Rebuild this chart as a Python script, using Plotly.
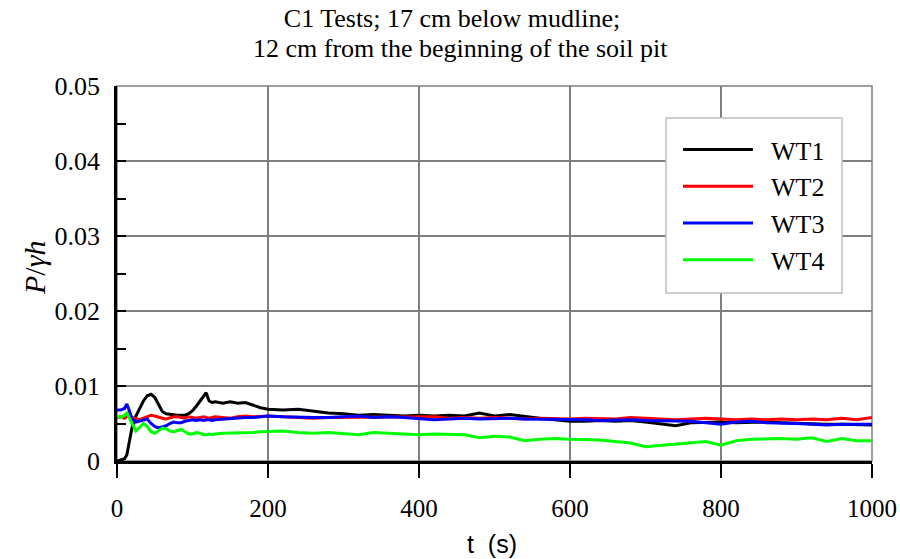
import plotly.graph_objects as go

# ---- data ----
t = [0, 5, 10, 13, 16, 20, 25, 30, 35, 40, 45, 50, 55, 60, 65, 70, 75, 80, 85, 90,
     95, 100, 105, 110, 115, 118, 122, 126, 130, 140, 150, 160, 170, 180, 190,
     200, 220, 240, 260, 280, 300, 320, 340, 360, 380, 400, 420, 440, 460, 480,
     500, 520, 540, 560, 580, 600, 620, 640, 660, 680, 700, 720, 740, 760, 780,
     800, 820, 840, 860, 880, 900, 920, 940, 960, 980, 1000]

wt1 = [0.0000, 0.0001, 0.0003, 0.0008, 0.0025, 0.0045, 0.0060, 0.0070, 0.0080, 0.0087,
       0.0089, 0.0085, 0.0075, 0.0066, 0.0063, 0.0062, 0.0062, 0.0061, 0.0061, 0.0061,
       0.0063, 0.0067, 0.0073, 0.0080, 0.0088, 0.0091, 0.0080, 0.0078, 0.0079, 0.0077,
       0.0079, 0.0077, 0.0078, 0.0074, 0.0071,
       0.0069, 0.0068, 0.0069, 0.0066, 0.0064, 0.0063, 0.0061, 0.0062, 0.0061, 0.0060,
       0.0061, 0.0060, 0.0061, 0.0060, 0.0064, 0.0060, 0.0062, 0.0059, 0.0057, 0.0055,
       0.0053, 0.0053, 0.0054, 0.0053, 0.0054, 0.0052, 0.0049, 0.0047, 0.0051, 0.0052,
       0.0052, 0.0051, 0.0052, 0.0052, 0.0051, 0.0050, 0.0050, 0.0049, 0.0049, 0.0049,
       0.0048]

wt2 = [0.0058, 0.0059, 0.0057, 0.0060, 0.0062, 0.0058, 0.0056, 0.0055, 0.0057, 0.0059,
       0.0061, 0.0060, 0.0058, 0.0057, 0.0056, 0.0058, 0.0059, 0.0059, 0.0058, 0.0057,
       0.0059, 0.0058, 0.0057, 0.0058, 0.0059, 0.0058, 0.0057, 0.0058, 0.0059, 0.0058,
       0.0057, 0.0059, 0.0060, 0.0059, 0.0060,
       0.0060, 0.0059, 0.0058, 0.0057, 0.0058, 0.0058, 0.0059, 0.0058, 0.0059, 0.0058,
       0.0058, 0.0059, 0.0057, 0.0058, 0.0057, 0.0058, 0.0057, 0.0056, 0.0057, 0.0056,
       0.0056, 0.0057, 0.0056, 0.0056, 0.0058, 0.0057, 0.0056, 0.0055, 0.0056, 0.0057,
       0.0056, 0.0055, 0.0056, 0.0055, 0.0056, 0.0055, 0.0056, 0.0055, 0.0057, 0.0055,
       0.0058]

wt3 = [0.0068, 0.0068, 0.0070, 0.0076, 0.0068, 0.0056, 0.0052, 0.0053, 0.0055, 0.0056,
       0.0050, 0.0046, 0.0044, 0.0045, 0.0047, 0.0050, 0.0052, 0.0051, 0.0051, 0.0053,
       0.0054, 0.0055, 0.0054, 0.0055, 0.0054, 0.0055, 0.0055, 0.0054, 0.0055, 0.0056,
       0.0056, 0.0057, 0.0058, 0.0058, 0.0059,
       0.0060, 0.0059, 0.0058, 0.0058, 0.0058, 0.0059, 0.0060, 0.0058, 0.0059, 0.0058,
       0.0057, 0.0055, 0.0056, 0.0057, 0.0056, 0.0057, 0.0057, 0.0056, 0.0056, 0.0055,
       0.0055, 0.0055, 0.0054, 0.0055, 0.0055, 0.0054, 0.0054, 0.0054, 0.0053, 0.0051,
       0.0049, 0.0052, 0.0053, 0.0051, 0.0051, 0.0050, 0.0049, 0.0048, 0.0049, 0.0049,
       0.0049]

wt4 = [0.0060, 0.0058, 0.0061, 0.0064, 0.0058, 0.0050, 0.0040, 0.0045, 0.0050, 0.0046,
       0.0039, 0.0037, 0.0040, 0.0044, 0.0043, 0.0040, 0.0039, 0.0041, 0.0042, 0.0039,
       0.0036, 0.0036, 0.0038, 0.0037, 0.0035, 0.0035, 0.0036, 0.0035, 0.0036, 0.0037,
       0.0037, 0.0038, 0.0037, 0.0038, 0.0039,
       0.0039, 0.0040, 0.0038, 0.0037, 0.0038, 0.0037, 0.0035, 0.0038, 0.0037, 0.0036,
       0.0035, 0.0036, 0.0036, 0.0035, 0.0031, 0.0033, 0.0032, 0.0027, 0.0029, 0.0030,
       0.0029, 0.0029, 0.0028, 0.0026, 0.0024, 0.0019, 0.0021, 0.0022, 0.0024, 0.0026,
       0.0021, 0.0027, 0.0029, 0.0030, 0.0030, 0.0029, 0.0031, 0.0026, 0.0030, 0.0027,
       0.0027]

series_names = ["WT1", "WT2", "WT3", "WT4"]
series_values = [wt1, wt2, wt3, wt4]
series_colors = ["#000000", "#ff0000", "#0000ff", "#00ff00"]

x_ticks = [0, 200, 400, 600, 800, 1000]
y_ticks = [0, 0.01, 0.02, 0.03, 0.04, 0.05]
y_tick_labels = ["0", "0.01", "0.02", "0.03", "0.04", "0.05"]

title_line1 = "C1 Tests; 17 cm below mudline;"
title_line2 = "12 cm from the beginning of the soil pit"

SERIF = "Liberation Serif, Times New Roman, serif"

# Layout in screen pixels (the page body margin is removed below).
W, H = 900, 559
PL, PR, PT, PB = 117, 872, 86, 461
PW, PH = PR - PL, PB - PT


def px(xs):
    return (xs - PL) / PW


def py(ys):
    return (PB - ys) / PH


fig = go.Figure()
for name, vals, col in zip(series_names, series_values, series_colors):
    fig.add_trace(go.Scatter(x=t, y=vals, mode="lines", name="\u2002" + name,
                             legendgroup=name,
                             line=dict(color=col, width=3)))

fig.update_layout(
    width=W, height=H,
    margin=dict(l=PL, r=W - PR, t=PT, b=H - PB, autoexpand=False),
    paper_bgcolor="white", plot_bgcolor="white",
    title=dict(text=title_line1, x=452 / W, xanchor="center",
               xref="container", yref="container",
               y=1 - 18 / H, yanchor="middle",
               font=dict(family=SERIF, size=26, color="black")),
    showlegend=True,
    legend=dict(x=px(678), xanchor="left", y=py(126), yanchor="top",
                bgcolor="rgba(0,0,0,0)", borderwidth=0, itemwidth=70,
                font=dict(family=SERIF, size=26, color="black"),
                tracegroupgap=0, traceorder="grouped"),
    shapes=[
        dict(type="rect", xref="paper", yref="paper", x0=0, x1=1, y0=0, y1=1,
             line=dict(color="#808080", width=1.5), layer="below"),
        dict(type="rect", xref="paper", yref="paper",
             x0=px(666), x1=px(842), y0=py(293), y1=py(118),
             line=dict(color="#c0c0c0", width=1.5), fillcolor="white", layer="above"),
    ],
    annotations=[
        dict(text=title_line2, xref="paper", yref="paper",
             x=px(460), y=py(48), showarrow=False,
             xanchor="center", yanchor="middle",
             font=dict(family=SERIF, size=26, color="black")),
        dict(text="<i>P</i>/<i>γh</i>", xref="paper", yref="paper",
             x=px(34), y=py(268), textangle=-90,
             showarrow=False, xanchor="center", yanchor="middle",
             font=dict(family=SERIF, size=30, color="black")),
        dict(text="t\u00a0 (s)", xref="paper", yref="paper",
             x=px(492), y=py(544),
             showarrow=False, xanchor="center", yanchor="middle",
             font=dict(family="Liberation Sans, Arial, sans-serif", size=25, color="black")),
    ],
)

fig.update_xaxes(range=[0, 1000], tickvals=x_ticks, ticktext=[str(v) for v in x_ticks],
                 showgrid=True, gridcolor="#808080", gridwidth=1.5,
                 showline=True, linecolor="black", linewidth=2.5,
                 ticks="outside", ticklen=14, tickwidth=2, tickcolor="black",
                 ticklabelstandoff=9, zeroline=False,
                 tickfont=dict(family=SERIF, size=25, color="black"))
fig.update_yaxes(range=[0, 0.05], tickvals=y_ticks, ticktext=y_tick_labels,
                 showgrid=True, gridcolor="#808080", gridwidth=1.5,
                 showline=True, linecolor="black", linewidth=2.5,
                 ticks="inside", ticklen=9, tickwidth=2, tickcolor="black",
                 minor=dict(tickvals=[0.005, 0.015, 0.025, 0.035, 0.045], ticks="inside",
                            ticklen=9, tickwidth=2, tickcolor="black", showgrid=False),
                 ticklabelstandoff=9, zeroline=False,
                 tickfont=dict(family=SERIF, size=26, color="black"))

fig.write_html("out.html",
               config={"displayModeBar": False},
               post_script="document.body.style.margin='0';"
                           "document.body.style.overflow='hidden';")
